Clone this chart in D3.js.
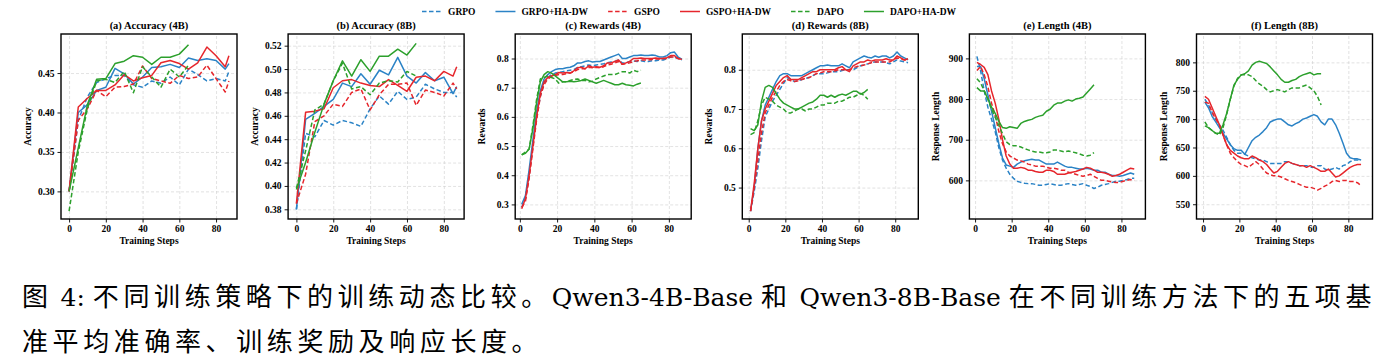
<!DOCTYPE html>
<html>
<head>
<meta charset="utf-8">
<script src="https://cdn.jsdelivr.net/npm/d3@7"></script>
<style>
body { margin: 0; background: #fff; }
svg text { font-family: "Liberation Serif", "Times New Roman", serif; }
</style>
</head>
<body>
<svg id="fig" width="1396" height="364"></svg>
<script>
// legend / series
var methods = ["GRPO", "GRPO+HA-DW", "GSPO", "GSPO+HA-DW", "DAPO", "DAPO+HA-DW"];
var methodColors = ["#2b83c6", "#2b83c6", "#e6262c", "#e6262c", "#2ca02c", "#2ca02c"];
var methodDashed = [true, false, true, false, true, false];

// x values
var evalSteps = [0, 5, 10, 15, 20, 25, 30, 35, 40, 45, 50, 55, 60, 65, 70, 75, 80, 85, 87];
var evalStepsDapo = [0, 5, 10, 15, 20, 25, 30, 35, 40, 45, 50, 55, 60, 65];
var trainSteps = [1, 3, 5, 7, 9, 11, 13, 15, 17, 19, 21, 23, 25, 27, 29, 31, 33, 35, 37, 39, 41, 43,
  45, 47, 49, 51, 53, 55, 57, 59, 61, 63, 65, 67, 69, 71, 73, 75, 77, 79, 81, 83, 85, 87];
var trainStepsDapo = [1, 3, 5, 7, 9, 11, 13, 15, 17, 19, 21, 23, 25, 27, 29, 31, 33, 35, 37, 39, 41, 43,
  45, 47, 49, 51, 53, 55, 57, 59, 61, 63, 65];

// (a) accuracy 4B
var acc4_GRPO = [0.300, 0.390, 0.420, 0.438, 0.443, 0.447, 0.447, 0.435, 0.432, 0.440, 0.437, 0.445, 0.435, 0.455, 0.448, 0.440, 0.443, 0.440, 0.452];
var acc4_GRPO_HA = [0.300, 0.400, 0.410, 0.428, 0.432, 0.456, 0.449, 0.436, 0.445, 0.457, 0.458, 0.461, 0.457, 0.469, 0.466, 0.468, 0.466, 0.455, 0.462];
var acc4_GSPO = [0.300, 0.390, 0.405, 0.428, 0.420, 0.432, 0.433, 0.436, 0.459, 0.443, 0.440, 0.437, 0.447, 0.443, 0.445, 0.460, 0.443, 0.426, 0.440];
var acc4_GSPO_HA = [0.300, 0.407, 0.418, 0.428, 0.428, 0.435, 0.448, 0.440, 0.444, 0.447, 0.463, 0.466, 0.462, 0.455, 0.463, 0.483, 0.472, 0.458, 0.472];
var acc4_DAPO = [0.275, 0.350, 0.405, 0.440, 0.442, 0.438, 0.452, 0.425, 0.458, 0.445, 0.432, 0.455, 0.445, 0.460];
var acc4_DAPO_HA = [0.300, 0.355, 0.410, 0.442, 0.443, 0.462, 0.465, 0.472, 0.470, 0.461, 0.470, 0.470, 0.474, 0.486];

// (b) accuracy 8B
var acc8_GRPO = [0.380, 0.445, 0.442, 0.456, 0.452, 0.456, 0.454, 0.451, 0.466, 0.477, 0.470, 0.481, 0.474, 0.476, 0.487, 0.483, 0.480, 0.480, 0.476];
var acc8_GRPO_HA = [0.380, 0.457, 0.462, 0.468, 0.474, 0.488, 0.485, 0.496, 0.487, 0.499, 0.495, 0.510, 0.494, 0.488, 0.497, 0.490, 0.493, 0.479, 0.485];
var acc8_GSPO = [0.385, 0.410, 0.455, 0.460, 0.470, 0.468, 0.480, 0.483, 0.465, 0.478, 0.487, 0.487, 0.488, 0.469, 0.482, 0.480, 0.477, 0.488, 0.483];
var acc8_GSPO_HA = [0.385, 0.463, 0.464, 0.466, 0.484, 0.490, 0.491, 0.488, 0.486, 0.485, 0.491, 0.486, 0.481, 0.493, 0.494, 0.490, 0.498, 0.494, 0.502];
var acc8_DAPO = [0.398, 0.430, 0.465, 0.470, 0.490, 0.505, 0.483, 0.485, 0.478, 0.488, 0.490, 0.489, 0.498, 0.494];
var acc8_DAPO_HA = [0.397, 0.420, 0.446, 0.470, 0.490, 0.507, 0.494, 0.508, 0.498, 0.511, 0.511, 0.517, 0.512, 0.522];

// (c) rewards 4B (smoothed)
var rew4_GRPO = [0.29, 0.32, 0.40, 0.50, 0.60, 0.67, 0.715, 0.735, 0.745, 0.75, 0.752, 0.755, 0.758, 0.76, 0.762, 0.77, 0.772, 0.775, 0.778, 0.775,
  0.778, 0.78, 0.782, 0.785, 0.788, 0.79, 0.795, 0.785, 0.785, 0.79, 0.792, 0.79, 0.792, 0.79, 0.79, 0.792, 0.792, 0.795, 0.795, 0.80,
  0.805, 0.805, 0.80, 0.795];
var rew4_GRPO_HA = [0.30, 0.33, 0.42, 0.52, 0.62, 0.69, 0.73, 0.745, 0.755, 0.762, 0.765, 0.765, 0.768, 0.77, 0.775, 0.785, 0.785, 0.79, 0.792, 0.788,
  0.79, 0.79, 0.795, 0.80, 0.805, 0.81, 0.815, 0.80, 0.80, 0.805, 0.81, 0.81, 0.812, 0.81, 0.81, 0.812, 0.81, 0.805, 0.805, 0.81,
  0.82, 0.822, 0.805, 0.798];
var rew4_GSPO = [0.29, 0.31, 0.39, 0.49, 0.59, 0.67, 0.71, 0.73, 0.738, 0.742, 0.745, 0.745, 0.748, 0.75, 0.755, 0.762, 0.765, 0.765, 0.77, 0.768,
  0.77, 0.768, 0.772, 0.778, 0.78, 0.785, 0.79, 0.78, 0.782, 0.785, 0.79, 0.792, 0.795, 0.795, 0.795, 0.797, 0.798, 0.798, 0.80, 0.80,
  0.805, 0.805, 0.80, 0.797];
var rew4_GSPO_HA = [0.285, 0.32, 0.40, 0.50, 0.60, 0.68, 0.72, 0.735, 0.74, 0.745, 0.752, 0.75, 0.752, 0.75, 0.758, 0.768, 0.77, 0.765, 0.775, 0.77,
  0.772, 0.77, 0.775, 0.785, 0.785, 0.79, 0.795, 0.78, 0.785, 0.79, 0.80, 0.80, 0.802, 0.80, 0.80, 0.80, 0.802, 0.80, 0.80, 0.803,
  0.81, 0.81, 0.80, 0.797];
var rew4_DAPO = [0.47, 0.48, 0.49, 0.57, 0.66, 0.73, 0.735, 0.74, 0.735, 0.73, 0.715, 0.72, 0.72, 0.725, 0.728, 0.73, 0.725, 0.725, 0.72, 0.722,
  0.73, 0.735, 0.74, 0.745, 0.745, 0.745, 0.75, 0.755, 0.755, 0.75, 0.76, 0.755, 0.76];
var rew4_DAPO_HA = [0.47, 0.475, 0.49, 0.56, 0.65, 0.72, 0.745, 0.755, 0.75, 0.74, 0.73, 0.72, 0.72, 0.722, 0.72, 0.722, 0.725, 0.73, 0.725, 0.72,
  0.715, 0.72, 0.725, 0.72, 0.715, 0.71, 0.71, 0.715, 0.71, 0.708, 0.706, 0.712, 0.716];

// (d) rewards 8B (smoothed)
var rew8_GRPO = [0.44, 0.49, 0.55, 0.62, 0.68, 0.70, 0.72, 0.735, 0.75, 0.765, 0.78, 0.775, 0.77, 0.772, 0.775, 0.778, 0.78, 0.785, 0.79, 0.79,
  0.79, 0.792, 0.795, 0.795, 0.795, 0.798, 0.80, 0.80, 0.80, 0.805, 0.81, 0.812, 0.815, 0.818, 0.82, 0.82, 0.82, 0.818, 0.815, 0.82,
  0.825, 0.822, 0.82, 0.818];
var rew8_GRPO_HA = [0.44, 0.50, 0.60, 0.67, 0.71, 0.73, 0.75, 0.77, 0.785, 0.79, 0.79, 0.785, 0.785, 0.785, 0.785, 0.79, 0.795, 0.80, 0.805, 0.81,
  0.81, 0.812, 0.81, 0.81, 0.81, 0.815, 0.81, 0.805, 0.82, 0.825, 0.83, 0.835, 0.832, 0.83, 0.835, 0.832, 0.835, 0.835, 0.83, 0.835,
  0.845, 0.835, 0.83, 0.825];
var rew8_GSPO = [0.44, 0.50, 0.57, 0.64, 0.69, 0.71, 0.73, 0.745, 0.76, 0.77, 0.775, 0.772, 0.77, 0.772, 0.775, 0.778, 0.78, 0.785, 0.79, 0.792,
  0.795, 0.795, 0.795, 0.797, 0.80, 0.80, 0.80, 0.80, 0.805, 0.808, 0.81, 0.812, 0.815, 0.818, 0.82, 0.82, 0.82, 0.82, 0.82, 0.825,
  0.83, 0.828, 0.825, 0.825];
var rew8_GSPO_HA = [0.44, 0.51, 0.60, 0.67, 0.70, 0.72, 0.74, 0.76, 0.77, 0.78, 0.785, 0.775, 0.775, 0.775, 0.78, 0.785, 0.79, 0.795, 0.795, 0.80,
  0.80, 0.80, 0.80, 0.80, 0.805, 0.808, 0.80, 0.795, 0.81, 0.815, 0.82, 0.82, 0.825, 0.822, 0.825, 0.825, 0.825, 0.828, 0.825, 0.825,
  0.835, 0.83, 0.825, 0.828];
var rew8_DAPO = [0.635, 0.64, 0.67, 0.71, 0.73, 0.725, 0.72, 0.71, 0.705, 0.70, 0.69, 0.69, 0.695, 0.70, 0.70, 0.695, 0.70, 0.70, 0.705, 0.71,
  0.71, 0.715, 0.715, 0.715, 0.72, 0.72, 0.725, 0.73, 0.73, 0.735, 0.74, 0.735, 0.725];
var rew8_DAPO_HA = [0.65, 0.645, 0.66, 0.72, 0.755, 0.76, 0.755, 0.74, 0.725, 0.715, 0.71, 0.705, 0.70, 0.70, 0.705, 0.71, 0.715, 0.718, 0.725, 0.735,
  0.735, 0.73, 0.735, 0.73, 0.735, 0.738, 0.735, 0.74, 0.745, 0.745, 0.738, 0.742, 0.75];

// (e) length 4B (smoothed)
var len4_GRPO = [905, 870, 820, 780, 750, 720, 680, 650, 630, 615, 605, 598, 595, 593, 592, 592, 590, 588, 588, 590,
  592, 590, 588, 588, 590, 592, 590, 588, 590, 592, 588, 585, 580, 583, 588, 590, 592, 595, 598, 598,
  600, 602, 605, 605];
var len4_GRPO_HA = [880, 880, 850, 810, 770, 730, 690, 655, 638, 635, 632, 640, 645, 648, 650, 652, 650, 650, 645, 640,
  640, 640, 645, 640, 635, 632, 632, 630, 628, 628, 630, 628, 625, 625, 620, 620, 615, 612, 612, 610,
  612, 615, 618, 615];
var len4_GSPO = [870, 880, 860, 830, 790, 760, 720, 690, 670, 660, 655, 650, 648, 645, 640, 638, 635, 635, 635, 632,
  630, 630, 628, 625, 625, 620, 618, 615, 612, 610, 612, 615, 610, 605, 600, 600, 598, 596, 595, 595,
  598, 600, 602, 600];
var len4_GSPO_HA = [890, 885, 878, 860, 820, 790, 750, 700, 660, 640, 630, 630, 632, 630, 625, 625, 622, 620, 620, 625,
  625, 622, 615, 615, 615, 618, 620, 622, 625, 628, 632, 630, 625, 620, 620, 618, 615, 610, 612, 615,
  620, 625, 630, 628];
var len4_DAPO = [850, 840, 820, 800, 775, 755, 735, 715, 695, 688, 685, 685, 682, 678, 675, 672, 670, 670, 668, 668,
  670, 675, 675, 672, 670, 672, 670, 668, 665, 662, 660, 662, 668];
var len4_DAPO_HA = [828, 820, 820, 800, 780, 765, 745, 730, 728, 732, 730, 728, 740, 745, 748, 750, 755, 758, 760, 770,
  775, 785, 790, 790, 795, 798, 795, 800, 802, 805, 815, 825, 835];

// (f) length 8B (smoothed)
var len8_GRPO = [735, 725, 712, 700, 690, 680, 668, 655, 645, 640, 640, 638, 635, 632, 630, 628, 628, 625, 622, 622,
  622, 622, 625, 625, 622, 620, 618, 618, 618, 615, 615, 618, 618, 612, 610, 612, 615, 612, 618, 620,
  625, 628, 628, 628];
var len8_GRPO_HA = [730, 720, 705, 695, 685, 675, 665, 655, 648, 645, 645, 638, 650, 662, 668, 672, 678, 685, 695, 698,
  700, 700, 695, 690, 688, 692, 695, 700, 702, 705, 708, 705, 695, 690, 700, 700, 690, 675, 658, 640,
  632, 630, 630, 628];
var len8_GSPO = [730, 728, 712, 700, 690, 672, 655, 640, 632, 625, 620, 618, 615, 620, 625, 620, 612, 605, 602, 600,
  600, 598, 595, 592, 590, 588, 585, 582, 580, 580, 578, 575, 578, 582, 585, 590, 592, 590, 592, 592,
  590, 590, 588, 583];
var len8_GSPO_HA = [740, 735, 720, 705, 690, 672, 655, 645, 640, 635, 632, 630, 630, 635, 632, 628, 625, 620, 612, 605,
  608, 615, 622, 625, 622, 620, 618, 618, 615, 618, 615, 612, 608, 608, 612, 605, 598, 600, 605, 610,
  615, 618, 620, 620];
var len8_DAPO = [695, 685, 680, 675, 672, 685, 708, 735, 758, 772, 778, 778, 778, 775, 768, 762, 758, 752, 748, 750,
  752, 750, 748, 752, 755, 755, 755, 758, 760, 755, 750, 740, 725];
var len8_DAPO_HA = [688, 685, 680, 675, 675, 690, 710, 735, 760, 770, 778, 780, 785, 795, 800, 802, 800, 798, 792, 785,
  778, 770, 765, 765, 768, 770, 775, 778, 780, 782, 778, 780, 780];

// tick labels
var xTicks = [0, 20, 40, 60, 80];
var yTicksA = [0.30, 0.35, 0.40, 0.45];
var yTicksB = [0.38, 0.40, 0.42, 0.44, 0.46, 0.48, 0.50, 0.52];
var yTicksC = [0.3, 0.4, 0.5, 0.6, 0.7, 0.8];
var yTicksD = [0.5, 0.6, 0.7, 0.8];
var yTicksE = [600, 700, 800, 900];
var yTicksF = [550, 600, 650, 700, 750, 800];

var panels = [
  { title: "(a) Accuracy (4B)", ylabel: "Accuracy", xs: [evalSteps, evalStepsDapo],
    series: [acc4_GRPO, acc4_GRPO_HA, acc4_GSPO, acc4_GSPO_HA, acc4_DAPO, acc4_DAPO_HA],
    xdom: [-4.4, 91.4], ydom: [0.265, 0.4995], yticks: yTicksA, fmt: ".2f" },
  { title: "(b) Accuracy (8B)", ylabel: "Accuracy", xs: [evalSteps, evalStepsDapo],
    series: [acc8_GRPO, acc8_GRPO_HA, acc8_GSPO, acc8_GSPO_HA, acc8_DAPO, acc8_DAPO_HA],
    xdom: [-4.5, 91], ydom: [0.3717, 0.530], yticks: yTicksB, fmt: ".2f" },
  { title: "(c) Rewards (4B)", ylabel: "Rewards", xs: [trainSteps, trainStepsDapo],
    series: [rew4_GRPO, rew4_GRPO_HA, rew4_GSPO, rew4_GSPO_HA, rew4_DAPO, rew4_DAPO_HA],
    xdom: [-2.5, 92], ydom: [0.25, 0.884], yticks: yTicksC, fmt: ".1f" },
  { title: "(d) Rewards (8B)", ylabel: "Rewards", xs: [trainSteps, trainStepsDapo],
    series: [rew8_GRPO, rew8_GRPO_HA, rew8_GSPO, rew8_GSPO_HA, rew8_DAPO, rew8_DAPO_HA],
    xdom: [-3.5, 92.6], ydom: [0.42, 0.891], yticks: yTicksD, fmt: ".1f" },
  { title: "(e) Length (4B)", ylabel: "Response Length", xs: [trainSteps, trainStepsDapo],
    series: [len4_GRPO, len4_GRPO_HA, len4_GSPO, len4_GSPO_HA, len4_DAPO, len4_DAPO_HA],
    xdom: [-3.1, 93.1], ydom: [505, 960], yticks: yTicksE, fmt: "d" },
  { title: "(f) Length (8B)", ylabel: "Response Length", xs: [trainSteps, trainStepsDapo],
    series: [len8_GRPO, len8_GRPO_HA, len8_GSPO, len8_GSPO_HA, len8_DAPO, len8_DAPO_HA],
    xdom: [-3.6, 93.3], ydom: [524, 850], yticks: yTicksF, fmt: "d" }
];

var svg = d3.select("#fig");
var panelW = 176, panelH = 185, panelTop = 34, left0 = 61, panelGap = 227.1;

panels.forEach(function (p, pi) {
  var g = svg.append("g")
    .attr("transform", "translate(" + (left0 + pi * panelGap) + "," + panelTop + ")");
  var x = d3.scaleLinear().domain(p.xdom).range([0, panelW]);
  var y = d3.scaleLinear().domain(p.ydom).range([panelH, 0]);

  // grid
  g.append("g").attr("class", "grid")
    .attr("transform", "translate(0," + panelH + ")")
    .call(d3.axisBottom(x).tickValues(xTicks).tickSize(-panelH).tickFormat(""));
  g.append("g").attr("class", "grid")
    .call(d3.axisLeft(y).tickValues(p.yticks).tickSize(-panelW).tickFormat(""));
  g.selectAll(".grid .domain").remove();
  g.selectAll(".grid line")
    .attr("stroke", "#cfcfcf").attr("stroke-width", 0.6).attr("stroke-dasharray", "3,2");

  var clip = "clip" + pi;
  g.append("clipPath").attr("id", clip).append("rect")
    .attr("width", panelW).attr("height", panelH);

  var line = d3.line()
    .x(function (d) { return x(d[0]); })
    .y(function (d) { return y(d[1]); });

  p.series.forEach(function (vals, si) {
    var xs = si >= 4 ? p.xs[1] : p.xs[0];
    var pts = vals.map(function (v, k) { return [xs[k], v]; });
    g.append("path")
      .datum(pts)
      .attr("clip-path", "url(#" + clip + ")")
      .attr("fill", "none")
      .attr("stroke", methodColors[si])
      .attr("stroke-width", 1.5)
      .attr("stroke-linejoin", "round")
      .attr("stroke-dasharray", methodDashed[si] ? "4.5,2.5" : null)
      .attr("d", line);
  });

  // frame
  g.append("rect").attr("width", panelW).attr("height", panelH)
    .attr("fill", "none").attr("stroke", "#000").attr("stroke-width", 1.4);

  g.append("g").attr("class", "axis")
    .attr("transform", "translate(0," + panelH + ")")
    .call(d3.axisBottom(x).tickValues(xTicks).tickSize(3.5).tickPadding(3).tickFormat(d3.format("d")));
  g.append("g").attr("class", "axis")
    .call(d3.axisLeft(y).tickValues(p.yticks).tickSize(3.5).tickPadding(3).tickFormat(d3.format(p.fmt)));
  g.selectAll(".axis .domain").remove();
  g.selectAll(".axis text")
    .attr("font-family", "Liberation Serif, serif")
    .attr("font-weight", "bold").attr("font-size", 9.5).attr("fill", "#000");
  g.selectAll(".axis line").attr("stroke", "#000").attr("stroke-width", 0.9);

  g.append("text")
    .attr("x", panelW / 2).attr("y", -5)
    .attr("text-anchor", "middle")
    .attr("font-weight", "bold").attr("font-size", 10.5)
    .text(p.title);
  g.append("text")
    .attr("x", panelW / 2).attr("y", panelH + 25)
    .attr("text-anchor", "middle")
    .attr("font-weight", "bold").attr("font-size", 9.5)
    .text("Training Steps");
  g.append("text")
    .attr("transform", "translate(-30," + (panelH / 2) + ") rotate(-90)")
    .attr("text-anchor", "middle")
    .attr("font-weight", "bold").attr("font-size", 9.5)
    .text(p.ylabel);
});

// legend
var legend = svg.append("g").attr("transform", "translate(422,15)");
var lx = 0;
methods.forEach(function (m, i) {
  legend.append("line")
    .attr("x1", lx).attr("x2", lx + 20).attr("y1", -3.5).attr("y2", -3.5)
    .attr("stroke", methodColors[i]).attr("stroke-width", 1.5)
    .attr("stroke-dasharray", methodDashed[i] ? "4.5,2.5" : null);
  var t = legend.append("text")
    .attr("x", lx + 26).attr("y", 0)
    .attr("font-weight", "bold").attr("font-size", 9.5)
    .text(m);
  lx += 26 + t.node().getComputedTextLength() + 20;
});

// caption: CJK runs get extra letter spacing, Latin runs use a wide serif
var captionLine1 = [
  ["图", true], [" 4: ", false], ["不同训练策略下的训练动态比较。", true],
  ["Qwen3-4B-Base ", false], ["和", true], [" Qwen3-8B-Base ", false],
  ["在不同训练方法下的五项基", true]
];
var captionLine2 = [["准平均准确率、训练奖励及响应长度。", true]];

function drawCaption(parts, yPos) {
  var t = svg.append("text")
    .attr("x", 22).attr("y", yPos)
    .attr("font-size", 26)
    .attr("xml:space", "preserve")
    .style("white-space", "pre");
  parts.forEach(function (part) {
    t.append("tspan")
      .attr("font-family", part[1] ? "Noto Sans CJK SC" : "DejaVu Serif")
      .attr("font-size", part[1] ? 26 : 25)
      .attr("letter-spacing", part[1] ? 4.6 : 0)
      .text(part[0]);
  });
}
drawCaption(captionLine1, 306);
drawCaption(captionLine2, 351);
</script>
</body>
</html>
